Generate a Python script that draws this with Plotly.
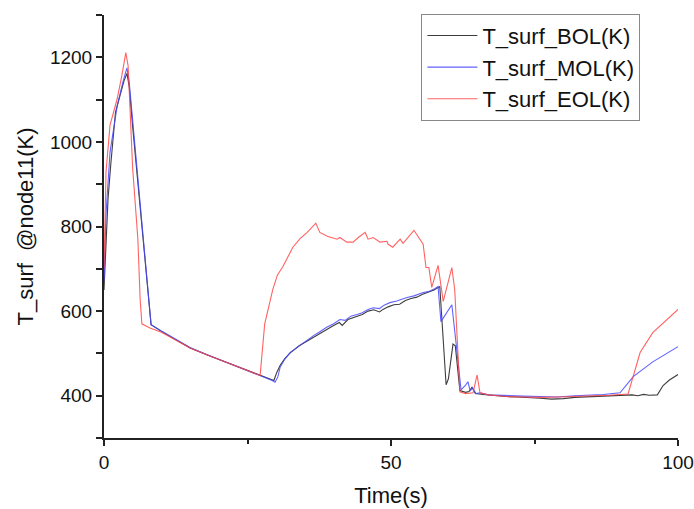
import plotly.graph_objects as go

# ---- data ----
t_bol = [0, 0.3, 0.7, 1.2, 2.0, 2.8, 3.5, 4.0, 4.4, 5.0, 6.0, 7.0, 7.8, 8.2, 10, 12, 15, 18, 21, 24, 27,
         29.2, 29.6, 30.1, 30.7, 31.5, 32.5, 34, 35.5, 37, 38.5, 40, 41, 41.5, 42.5, 44, 45, 46, 47, 48,
         48.6, 49.5, 50.5, 51.5, 52.5, 53.5, 54.5, 55.5, 56.5, 57.5, 58.5, 59.6, 60.0, 60.5, 60.8, 61.2,
         62.0, 63.0, 63.6, 64.1, 64.7, 66, 68, 70, 72, 74, 76, 78, 80, 82, 84, 86, 88, 90, 92, 93, 94, 95,
         96.4, 97.4, 98.5, 100]
bol = [650, 760, 865, 950, 1070, 1110, 1145, 1162, 1130, 1035, 890, 735, 630, 568, 552, 536, 513, 496, 480, 464, 448,
       437, 436, 455, 472, 488, 502, 518, 530, 544, 556, 566, 573, 566, 580, 588, 592, 600, 603, 598,
       604, 610, 615, 616, 625, 630, 633, 640, 645, 650, 658, 426, 440, 500, 522, 518,
       412, 408, 410, 420, 405, 403, 400, 398, 397, 396, 394, 392, 393, 396, 397, 398, 400, 401, 402, 400, 403, 401,
       402, 424, 437, 450]

t_mol = [0, 0.35, 1.05, 2.3, 3.3, 4.0, 4.4, 5.0, 5.9, 7.1, 7.8, 8.2, 10, 12, 15, 18, 21, 24, 27,
         29.3, 29.8, 30.3, 30.7, 31.5, 32.4, 34, 35.4, 36.5, 37.6, 38.8, 40, 41.1, 42, 43, 44.1, 45, 46,
         46.9, 48, 48.8, 49.8, 51, 52.8, 54, 55.6, 56.5, 57.5, 58.2, 58.7, 59.7, 60.6, 61.4, 62.2, 63.0,
         63.4, 63.8, 64.2, 64.8, 65.5, 67, 70, 73, 76, 79, 82, 85, 87, 89.9, 92.2, 95.6, 100]
mol = [670, 830, 976, 1085, 1142, 1175, 1140, 1050, 915, 722, 627, 568, 553, 537, 514, 497, 481, 465, 449,
       436, 432, 445, 468, 486, 502, 518, 532, 542, 551, 562, 570, 580, 578, 588, 592, 596, 604,
       608, 606, 614, 620, 624, 632, 636, 644, 646, 652, 658, 575, 596, 615, 516, 414, 425,
       433, 411, 419, 405, 407, 402, 400, 399, 398, 397, 400, 401, 403, 407, 445, 480, 516]

t_eol = [0, 0.35, 1.05, 2.3, 3.1, 3.8, 4.2, 5.0, 5.9, 6.3, 6.6, 8, 10, 12, 15, 18, 21, 24, 27.2,
         28.0, 29.4, 30.2, 31.2, 32.9, 34.2, 35.4, 36.9, 37.6, 38.9, 40.6, 41.1, 42.3, 43.4, 44.3, 45.5,
         46.0, 46.9, 48.1, 49.3, 49.5, 50.3, 51.6, 52.1, 54.0, 55.6, 56.1, 56.6, 57.1, 58.2, 59.1, 60.6,
         61.1, 62.0, 63, 64.3, 65.0, 65.5, 67, 70, 73, 76, 79, 82, 85, 88, 91.3, 93.4, 95.6, 98.1, 100]
eol = [700, 929, 1040, 1102, 1156, 1211, 1180, 936, 770, 627, 570, 560, 550, 535, 513, 496, 480, 464, 448,
       570, 651, 685, 706, 751, 772, 786, 808, 786, 777, 770, 774, 763, 763, 774, 786,
       770, 774, 763, 765, 758, 751, 770, 760, 791, 758, 703, 703, 656, 708, 623, 703,
       651, 409, 405, 407, 449, 407, 402, 398, 397, 396, 397, 398, 400, 401, 404, 502, 549, 580, 604]

names = ["T_surf_BOL(K)", "T_surf_MOL(K)", "T_surf_EOL(K)"]
colors = ["rgba(40,40,40,0.9)", "rgba(70,70,255,0.85)", "rgba(255,70,70,0.85)"]

FONT = "Arial, 'Liberation Sans', sans-serif"

fig = go.Figure()
for tt, yy, nm, c in zip([t_bol, t_mol, t_eol], [bol, mol, eol], names, colors):
    fig.add_trace(go.Scatter(x=tt, y=yy, mode="lines", name=nm,
                             line=dict(color=c, width=1.1)))

fig.update_layout(
    width=694, height=509,
    margin=dict(l=104, r=16, t=15, b=71, autoexpand=False),
    paper_bgcolor="white", plot_bgcolor="white",
    font=dict(family=FONT, color="#111", size=19),
    showlegend=True,
    legend=dict(x=0.553, y=1.003, xanchor="left", yanchor="top",
                bgcolor="white", bordercolor="#888", borderwidth=1,
                font=dict(family=FONT, size=22, color="#111"),
                tracegroupgap=0, itemwidth=50),
)
fig.update_xaxes(range=[0, 100], dtick=50, tick0=0, showgrid=False, zeroline=False,
                 automargin=False,
                 showline=True, linecolor="#222", linewidth=2,
                 ticks="outside", ticklen=6, tickwidth=2, tickcolor="#222",
                 minor=dict(dtick=25, ticks="outside", ticklen=4, tickwidth=2, tickcolor="#222"),
                 tickfont=dict(size=19),
                 title=dict(text="Time(s)", font=dict(size=22), standoff=16))
fig.update_yaxes(range=[300, 1300], dtick=200, tick0=400, showgrid=False, zeroline=False,
                 automargin=False,
                 showline=True, linecolor="#222", linewidth=2,
                 ticks="outside", ticklen=6, tickwidth=2, tickcolor="#222",
                 minor=dict(dtick=100, tick0=300, ticks="outside", ticklen=6, tickwidth=2, tickcolor="#222"),
                 tickfont=dict(size=19),
                 title=dict(text="T_surf  @node11(K)", font=dict(size=22), standoff=10))

fig.write_html("out.html",
               config={"displayModeBar": False},
               post_script="document.body.style.margin='0';document.body.style.overflow='hidden';")
